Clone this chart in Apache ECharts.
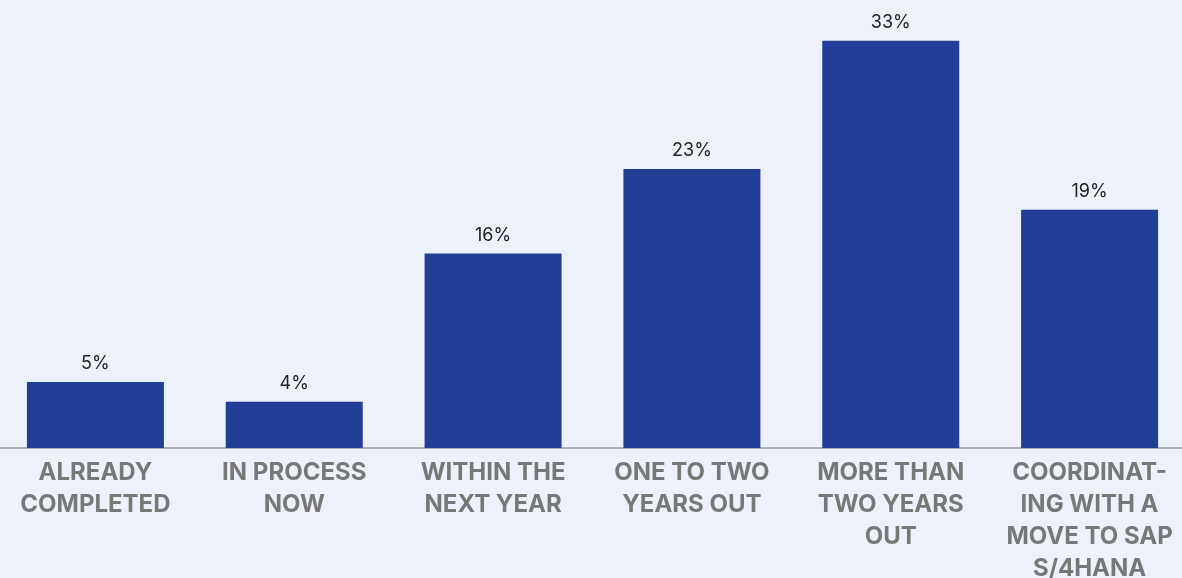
<!DOCTYPE html>
<html>
<head>
<meta charset="utf-8">
<script src="https://cdn.jsdelivr.net/npm/echarts@6/dist/echarts.min.js"></script>
<style>
  html, body { margin: 0; padding: 0; background: #edf2fa; }
  #chart { width: 1182px; height: 578px; }
</style>
</head>
<body>
<div id="chart"></div>
<script>
const categories = [
    'ALREADY\nCOMPLETED',
    'IN PROCESS\nNOW',
    'WITHIN THE\nNEXT YEAR',
    'ONE TO TWO\nYEARS OUT',
    'MORE THAN\nTWO YEARS\nOUT',
    'COORDINAT-\nING WITH A\nMOVE TO SAP\nS/4HANA'
];
// bar heights; labels show the rounded percent
const values = [5.35, 3.75, 15.75, 22.6, 33, 19.3];

const chart = echarts.init(document.getElementById('chart'));
chart.setOption({
    backgroundColor: '#edf2fa',
    grid: { left: -4, right: -7, top: 0, bottom: 130, outerBoundsMode: 'none', containLabel: false },
    xAxis: {
        type: 'category',
        data: categories,
        axisLine: { lineStyle: { color: '#9a9a9a', width: 1.5 } },
        axisTick: { show: false },
        axisLabel: {
            color: '#777777',
            fontFamily: 'Inter',
            fontWeight: 'bold',
            fontSize: 24,
            lineHeight: 32,
            margin: 9,
            interval: 0
        }
    },
    yAxis: {
        type: 'value',
        min: 0,
        max: 36.3,
        show: false,
        splitLine: { show: false }
    },
    series: [{
        type: 'bar',
        data: values,
        barWidth: 137,
        itemStyle: { color: '#223e96' },
        label: {
            show: true,
            position: 'top',
            distance: 9,
            formatter: (p) => Math.round(p.value) + '%',
            color: '#222222',
            fontFamily: 'Inter',
            fontSize: 18
        }
    }]
});
</script>
</body>
</html>
